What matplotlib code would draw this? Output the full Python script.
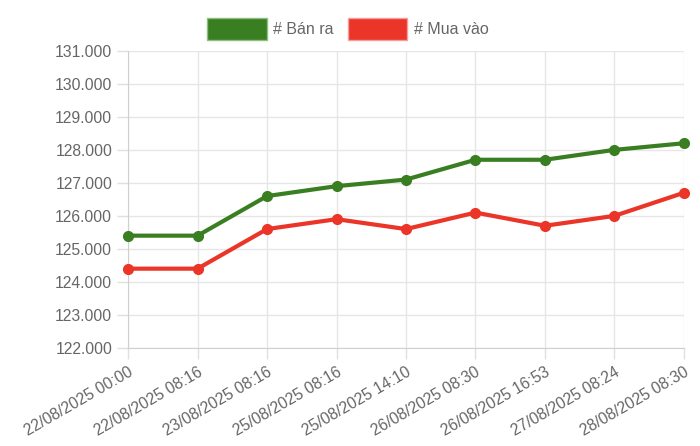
import matplotlib.pyplot as plt
from matplotlib.patches import Patch
from matplotlib.ticker import FuncFormatter

plt.rcParams['font.family'] = ['Liberation Sans', 'DejaVu Sans']

labels = ['22/08/2025 00:00', '22/08/2025 08:16', '23/08/2025 08:16',
          '25/08/2025 08:16', '25/08/2025 14:10', '26/08/2025 08:30',
          '26/08/2025 16:53', '27/08/2025 08:24', '28/08/2025 08:30']
ban_ra = [125400, 125400, 126600, 126900, 127100, 127700, 127700, 128000, 128200]
mua_vao = [124400, 124400, 125600, 125900, 125600, 126100, 125700, 126000, 126700]

green = '#3a7e22'
red = '#ea3528'
txt = '#666666'

fig = plt.figure(figsize=(7, 4.46), dpi=100)
ax = fig.add_axes([0.183, 0.220, 0.794, 0.666])

x = list(range(len(labels)))
ax.plot(x, ban_ra, color=green, lw=3, marker='o', ms=7, zorder=3, clip_on=False)
ax.plot(x, mua_vao, color=red, lw=3, marker='o', ms=7, zorder=3, clip_on=False)

ax.set_xlim(0, len(labels) - 1)
ax.set_ylim(122000, 131000)
ax.set_yticks(range(122000, 131001, 1000))
ax.yaxis.set_major_formatter(FuncFormatter(lambda v, p: f'{int(v):,}'.replace(',', '.')))
ax.set_xticks(x)
ax.set_xticklabels(labels, rotation=30, ha='right', rotation_mode='anchor')

ax.grid(True, color='#e6e6e6', lw=1)
ax.set_axisbelow(True)
for s in ['top', 'right']:
    ax.spines[s].set_visible(False)
ax.spines['left'].set_color('#d0d0d0')
ax.spines['bottom'].set_color('#d0d0d0')
ax.tick_params(colors='#e0e0e0', labelcolor=txt, labelsize=11.3, length=8, width=1)
ax.tick_params(axis='x', pad=4)

handles = [Patch(facecolor=green, edgecolor='#8fbf80', label='# Bán ra'),
           Patch(facecolor=red, edgecolor='#f3a09a', label='# Mua vào')]
fig.legend(handles=handles, loc='center', bbox_to_anchor=(0.497, 0.935), ncol=2,
           frameon=False, fontsize=11.5, labelcolor=txt, handlelength=3.75,
           handleheight=1.7, handletextpad=0.4, columnspacing=0.85)

fig.savefig('out.png', dpi=100)
